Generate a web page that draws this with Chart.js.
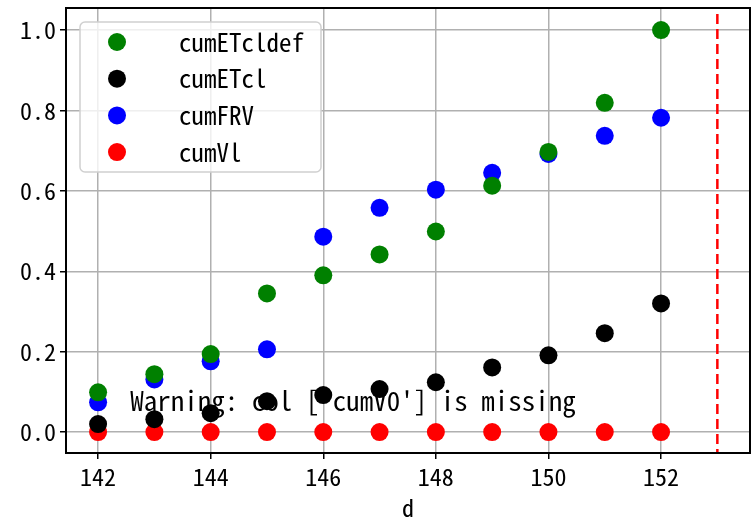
<!DOCTYPE html>
<html>
<head>
<meta charset="utf-8">
<script src="https://cdn.jsdelivr.net/npm/chart.js@4/dist/chart.umd.min.js"></script>
<style>
  html, body { margin: 0; padding: 0; background: #fff; overflow: hidden; }
  #wrap { width: 753px; height: 526px; position: relative; }
  canvas { display: block; }
</style>
</head>
<body>
<div id="wrap"><canvas id="chart"></canvas></div>
<script>
// day numbers on the x axis
const days = [142, 143, 144, 145, 146, 147, 148, 149, 150, 151, 152];

// series values
const cumETcldef = [0.099, 0.144, 0.194, 0.345, 0.390, 0.442, 0.499, 0.613, 0.697, 0.819, 1.000];
const cumETcl    = [0.020, 0.032, 0.047, 0.077, 0.092, 0.107, 0.124, 0.161, 0.191, 0.246, 0.320];
const cumFRV     = [0.074, 0.131, 0.176, 0.206, 0.486, 0.558, 0.603, 0.645, 0.692, 0.737, 0.782];
const cumVl      = [0, 0, 0, 0, 0, 0, 0, 0, 0, 0, 0];

const xTicks = [142, 144, 146, 148, 150, 152];
const yTicks = [0.0, 0.2, 0.4, 0.6, 0.8, 1.0];
const cutoffDay = 153;
const warningText = "Warning: col ['cumV0'] is missing";

const FONT = '"Noto Sans Mono CJK SC", "DejaVu Sans Mono", monospace';

function pts(ys) {
    return days.map((d, i) => ({ x: d, y: ys[i] }));
}

function noPad(s) {
    s.paddingTop = 0; s.paddingBottom = 0; s.paddingLeft = 0; s.paddingRight = 0;
}

// warning text sits under the markers
const warningPlugin = {
    id: 'warning',
    beforeDatasetsDraw(chart) {
        const { ctx, chartArea } = chart;
        ctx.save();
        ctx.font = '27px ' + FONT;
        ctx.fillStyle = '#000';
        ctx.textBaseline = 'middle';
        ctx.fillText(warningText, chartArea.left + 0.094 * (chartArea.right - chartArea.left), 401);
        ctx.restore();
    }
};

// dashed cutoff line, frame and legend
const overlayPlugin = {
    id: 'overlay',
    afterDraw(chart) {
        const { ctx, chartArea, scales } = chart;
        ctx.save();

        const vx = scales.x.getPixelForValue(cutoffDay);
        ctx.strokeStyle = '#ff0000';
        ctx.lineWidth = 2.5;
        ctx.setLineDash([10, 5]);
        ctx.beginPath();
        ctx.moveTo(vx, chartArea.top + 6);
        ctx.lineTo(vx, chartArea.bottom);
        ctx.stroke();
        ctx.setLineDash([]);

        ctx.strokeStyle = '#000';
        ctx.lineWidth = 2;
        ctx.strokeRect(chartArea.left, chartArea.top, chartArea.right - chartArea.left, chartArea.bottom - chartArea.top);

        // legend box
        const bx = 80, by = 22, bw = 241, bh = 150, r = 5;
        ctx.fillStyle = 'rgba(255,255,255,0.8)';
        ctx.strokeStyle = '#d0d0d0';
        ctx.lineWidth = 1.5;
        ctx.beginPath();
        ctx.roundRect(bx, by, bw, bh, r);
        ctx.fill();
        ctx.stroke();

        ctx.font = '25px ' + FONT;
        ctx.textBaseline = 'middle';
        chart.data.datasets.forEach((ds, i) => {
            const y = 42 + i * 36.7;
            ctx.fillStyle = ds.backgroundColor;
            ctx.beginPath();
            ctx.arc(117, y, 9, 0, Math.PI * 2);
            ctx.fill();
            ctx.fillStyle = '#000';
            ctx.fillText(ds.label, 179, y);
        });
        ctx.restore();
    }
};

const series = [
    { label: 'cumETcldef', data: cumETcldef, color: '#008000' },
    { label: 'cumETcl',    data: cumETcl,    color: '#000000' },
    { label: 'cumFRV',     data: cumFRV,     color: '#0000ff' },
    { label: 'cumVl',      data: cumVl,      color: '#ff0000' }
];

new Chart(document.getElementById('chart'), {
    type: 'scatter',
    data: {
        datasets: series.map(s => ({
            label: s.label,
            data: pts(s.data),
            backgroundColor: s.color,
            borderColor: s.color,
            borderWidth: 0,
            pointRadius: 9,
            pointHoverRadius: 9
        }))
    },
    options: {
        responsive: true,
        maintainAspectRatio: false,
        animation: false,
        events: [],
        layout: { autoPadding: false, padding: { top: 8, right: 3, left: 0, bottom: 0 } },
        plugins: {
            legend: { display: false },
            tooltip: { enabled: false }
        },
        scales: {
            x: {
                type: 'linear',
                min: 141.43,
                max: 153.58,
                afterBuildTicks: s => { s.ticks = xTicks.map(v => ({ value: v })); },
                afterFit: s => { s.height = 73; noPad(s); },
                grid: { color: '#b0b0b0', lineWidth: 1.5, tickColor: '#000', tickLength: 6, tickWidth: 1.5 },
                border: { display: false },
                ticks: { color: '#000', font: { family: FONT, size: 24 }, padding: 3, maxRotation: 0 },
                title: { display: true, text: 'd', color: '#000', font: { family: FONT, size: 24 }, padding: { top: 0 } }
            },
            y: {
                min: -0.052,
                max: 1.055,
                afterBuildTicks: s => { s.ticks = yTicks.map(v => ({ value: v })); },
                afterFit: s => { s.width = 66; noPad(s); },
                grid: { color: '#b0b0b0', lineWidth: 1.5, tickColor: '#000', tickLength: 6, tickWidth: 1.5 },
                border: { display: false },
                ticks: { color: '#000', font: { family: FONT, size: 24 }, padding: 4, callback: v => v.toFixed(1) }
            }
        }
    },
    plugins: [warningPlugin, overlayPlugin]
});
</script>
</body>
</html>
